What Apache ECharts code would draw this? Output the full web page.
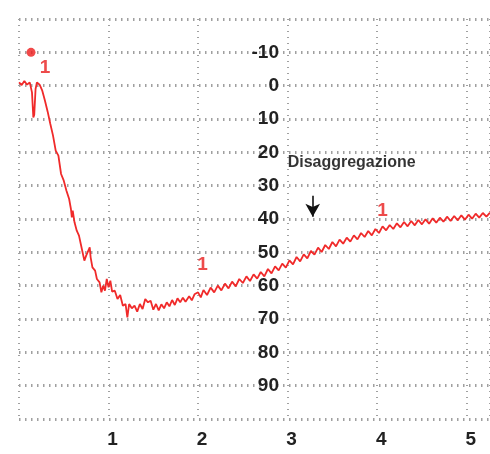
<!DOCTYPE html>
<html>
<head>
<meta charset="utf-8">
<script src="https://cdn.jsdelivr.net/npm/echarts@6/dist/echarts.min.js"></script>
<style>
html,body{margin:0;padding:0;background:#fff;}
#chart{width:490px;height:454px;}
</style>
</head>
<body>
<div id="chart"></div>
<script>
// time axis values (x) and signal values (y, inverted axis)
var timeVals = [0,0.03,0.06,0.09,0.12,0.145,0.16,0.17,0.185,0.2,0.23,
0.26,0.29,0.32,0.35,0.38,0.41,0.44,0.47,0.5,0.53,0.56,0.58,0.59,0.6,0.62,0.645,0.67,0.69,0.71,0.73,0.75,0.77,0.79,0.8,0.82,0.85,0.87,0.9,0.92,0.94,0.96,0.98,
1.0,1.02,1.04,1.07,1.1,1.13,1.16,1.19,1.21,1.23,1.26,1.29,1.32,1.35,1.38,1.41,1.44,1.47,1.5,1.53,1.56,1.59,1.62,1.65,1.68,1.71,1.74,1.77,1.8,1.83,1.86,1.9,1.93,1.96,
2.0,2.03,2.06,2.1,2.14,2.18,2.22,2.26,2.3,2.34,2.38,2.42,2.46,2.5,2.54,2.58,2.62,2.66,2.7,2.74,2.78,2.82,2.86,2.9,2.94,2.98,
3.02,3.06,3.1,3.14,3.18,3.22,3.26,3.3,3.34,3.38,3.42,3.46,3.5,3.54,3.58,3.62,3.66,3.7,3.74,3.78,3.82,3.86,3.9,3.94,3.98,
4.02,4.06,4.1,4.14,4.18,4.22,4.26,4.3,4.34,4.38,4.42,4.46,4.5,4.54,4.58,4.62,4.66,4.7,4.74,4.78,4.82,4.86,4.9,4.94,4.98,
5.02,5.06,5.1,5.14,5.18,5.22,5.26];
var signalVals = [-1,-0.2,-1.4,-0.3,-1,2,9.5,8.8,1,-1,-0.3,
1.5,4.5,7.8,11.5,15,19.5,21,26.5,28.5,31.5,34,37,39.5,37.5,41,43.5,45,47.5,48,52.5,51,50.5,48.5,51.5,54.5,55.5,58,59,62,60,61.5,58,
60.5,58.5,61.8,61.5,64,62.8,66,65.5,69.5,65.5,66.8,66,67.8,65.5,67,64,65,64.5,67.2,65.5,67.4,65.6,66.8,65,66.2,64.3,65.8,63.8,65,63.6,64.8,63.2,64.4,62.6,
62,63.5,61.3,62.8,60.6,62,60,61.4,59.4,60.8,58.8,60.2,58,59.2,57.2,58.6,56.6,57.9,55.9,57.2,55,56.3,54.2,55.4,53.4,54.6,
52.4,53.6,51.4,52.7,50.6,51.8,49.6,50.7,48.6,49.9,47.8,49,46.9,48.2,46.2,47.4,45.6,46.8,44.9,46.1,44.2,45.4,43.6,44.9,43,
44.2,42.2,43.4,41.8,43,41.3,42.5,40.9,42.2,40.6,41.9,40.3,41.6,40.1,41.4,39.8,41.1,39.6,40.8,39.3,40.6,39.1,40.4,38.9,40.2,
38.7,39.9,38.4,39.6,38.2,39.3,38.1];
// marker "1" annotations [x, y]
var markerPos = [[0.29,-5.4],[2.05,53.7],[4.06,37.5]];
var markerText = ['1','1','1'];
var dotPos = [[0.134,-10]];
var noteText = 'Disaggregazione';
var notePos = [[3.0,23.1]];
var arrowFrom = [3.28,33];
var arrowTo = [3.28,39.3];

var xTicks = ['1','2','3','4','5'];
var yTicks = ['-10','0','10','20','30','40','50','60','70','80','90'];

var lineData = timeVals.map(function(t,i){return [t, signalVals[i]];});
var fontFam = '"Liberation Sans Narrow","Liberation Sans",Arial,sans-serif';

var chart = echarts.init(document.getElementById('chart'), null, {renderer:'canvas'});
chart.setOption({
  animation:false,
  backgroundColor:'#ffffff',
  grid:{left:19,right:0,top:19,bottom:35,containLabel:false},
  xAxis:{
    type:'value',min:0,max:5.26,interval:1,
    axisLine:{show:false},axisTick:{show:false},
    splitLine:{show:true,lineStyle:{color:'#a0a0a0',width:2,type:[1,5]}},
    axisLabel:{
      margin:11,fontSize:19,fontWeight:'bold',color:'#222',fontFamily:fontFam,
      showMaxLabel:false,padding:[0,0,0,8],
      formatter:function(v){var s=String(Math.round(v));return (Math.abs(v-Math.round(v))<1e-6 && xTicks.indexOf(s)>=0)?s:'';}
    }
  },
  yAxis:{
    type:'value',inverse:true,min:-20,max:100,interval:10,offset:-268,
    axisLine:{show:false},axisTick:{show:false},
    splitLine:{show:true,lineStyle:{color:'#a0a0a0',width:3,type:[1.5,4.5]}},
    axisLabel:{
      margin:8,fontSize:19,fontWeight:'bold',color:'#222',fontFamily:fontFam,
      formatter:function(v){var s=String(v);return yTicks.indexOf(s)>=0?s:'';}
    }
  },
  series:[
    {
      type:'line',data:lineData,showSymbol:false,symbol:'none',
      lineStyle:{color:'#f02a2a',width:1.8},
      markLine:{
        silent:true,symbol:['none','arrow'],symbolSize:[11,13],
        lineStyle:{color:'#111',width:1.6,type:'solid'},
        label:{show:false},
        data:[[{coord:arrowFrom},{coord:arrowTo}]]
      }
    },
    {
      type:'scatter',data:dotPos,symbolSize:9,itemStyle:{color:'#ee1c1c'}
    },
    {
      type:'scatter',data:markerPos,symbolSize:0,
      label:{show:true,position:'inside',color:'#e81e1e',fontSize:19,fontWeight:'bold',fontFamily:fontFam,
        formatter:function(p){return markerText[p.dataIndex];}}
    },
    {
      type:'scatter',data:notePos,symbolSize:0,
      label:{show:true,position:'right',distance:0,color:'#000',fontSize:16,fontWeight:'bold',
        fontFamily:'"Liberation Sans",Arial,sans-serif',formatter:function(){return noteText;}}
    }
  ]
});
</script>
</body>
</html>
